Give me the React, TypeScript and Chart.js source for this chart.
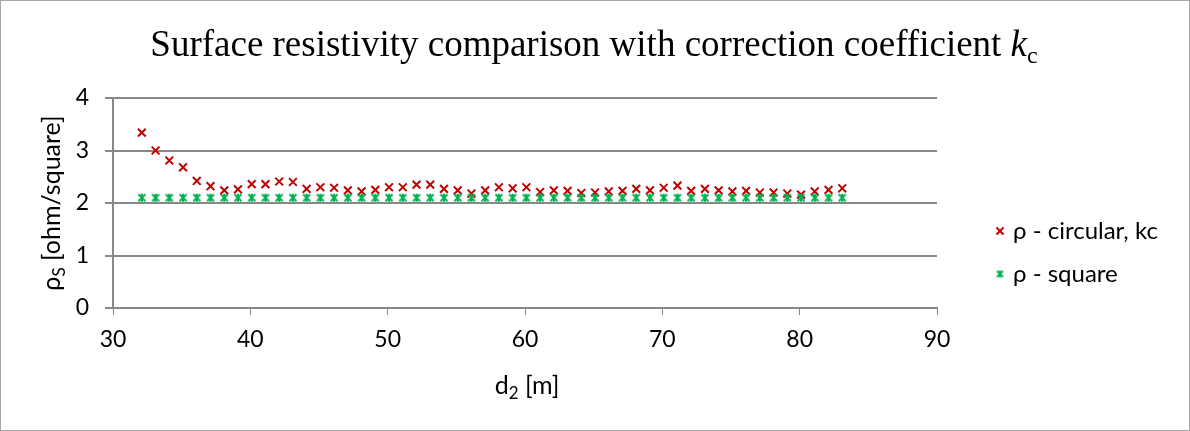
import React, { useEffect, useRef } from 'react';
import { Chart, registerables } from 'chart.js';
Chart.register(...registerables);

const d2 = [
  32.1, 33.1, 34.1, 35.1, 36.1, 37.1, 38.1, 39.1, 40.1, 41.1, 42.1, 43.1, 44.1,
  45.1, 46.1, 47.1, 48.1, 49.1, 50.1, 51.1, 52.1, 53.1, 54.1, 55.1, 56.1, 57.1,
  58.1, 59.1, 60.1, 61.1, 62.1, 63.1, 64.1, 65.1, 66.1, 67.1, 68.1, 69.1, 70.1,
  71.1, 72.1, 73.1, 74.1, 75.1, 76.1, 77.1, 78.1, 79.1, 80.1, 81.1, 82.1, 83.1,
];
const rhoCircular = [
  3.34, 3.0, 2.81, 2.68, 2.42, 2.32, 2.24, 2.26, 2.36, 2.36, 2.41, 2.4, 2.27,
  2.3, 2.29, 2.24, 2.22, 2.25, 2.3, 2.3, 2.35, 2.35, 2.27, 2.24, 2.18, 2.24,
  2.3, 2.28, 2.3, 2.21, 2.24, 2.23, 2.19, 2.2, 2.22, 2.23, 2.27, 2.24, 2.29,
  2.33, 2.23, 2.27, 2.24, 2.22, 2.23, 2.2, 2.2, 2.18, 2.16, 2.22, 2.25, 2.28,
];
const rhoSquare = [
  2.1, 2.1, 2.1, 2.1, 2.1, 2.1, 2.1, 2.1, 2.1, 2.1, 2.1, 2.1, 2.1,
  2.1, 2.1, 2.1, 2.1, 2.1, 2.1, 2.1, 2.1, 2.1, 2.1, 2.1, 2.1, 2.1,
  2.1, 2.1, 2.1, 2.1, 2.1, 2.1, 2.1, 2.1, 2.1, 2.1, 2.1, 2.1, 2.1,
  2.1, 2.1, 2.1, 2.1, 2.1, 2.1, 2.1, 2.1, 2.1, 2.1, 2.1, 2.1, 2.1,
];
const seriesNames = ['ρ - circular, kc', 'ρ - square'];
const xMin = 30, xMax = 90, xStep = 10;
const yMin = 0, yMax = 4, yStep = 1;

const RED = '#c00000';
const GREEN = '#00b050';
const GRID = '#888888';
const SANS = 'Lato, "Open Sans", sans-serif';
const SERIF = '"Liberation Serif", "Times New Roman", serif';

function makeStar(color: string, size: number) {
  const c = document.createElement('canvas');
  c.width = size;
  c.height = size;
  const g = c.getContext('2d')!;
  g.strokeStyle = color;
  g.lineWidth = 2;
  const a = 1.5, b = size - 1.5;
  g.beginPath();
  g.moveTo(a, a); g.lineTo(b, b);
  g.moveTo(b, a); g.lineTo(a, b);
  g.moveTo(size / 2, a - 0.5); g.lineTo(size / 2, b + 0.5);
  g.stroke();
  return c;
}

function drawCross(ctx: CanvasRenderingContext2D, x: number, y: number, r: number, color: string) {
  ctx.save();
  ctx.strokeStyle = color;
  ctx.lineWidth = 2;
  ctx.beginPath();
  ctx.moveTo(x - r, y - r); ctx.lineTo(x + r, y + r);
  ctx.moveTo(x + r, y - r); ctx.lineTo(x - r, y + r);
  ctx.stroke();
  ctx.restore();
}

const decor = {
  id: 'decor',
  afterDraw(chart: any) {
    const ctx: CanvasRenderingContext2D = chart.ctx;
    ctx.save();
    // outer border
    ctx.strokeStyle = '#a6a6a6';
    ctx.lineWidth = 1;
    ctx.strokeRect(0.5, 0.5, chart.width - 1, chart.height - 1);

    // title
    ctx.fillStyle = '#000';
    ctx.textBaseline = 'alphabetic';
    ctx.textAlign = 'left';
    const mainFont = `37px ${SERIF}`;
    const kFont = `italic 37px ${SERIF}`;
    const subFont = `24px ${SERIF}`;
    const t1 = 'Surface resistivity comparison with correction coefficient ';
    ctx.font = mainFont; const w1 = ctx.measureText(t1).width;
    ctx.font = kFont; const w2 = ctx.measureText('k').width;
    ctx.font = subFont; const w3 = ctx.measureText('c').width;
    const total = w1 + w2 + w3;
    let tx = 594 - total / 2;
    const ty = 56;
    ctx.font = mainFont; ctx.fillText(t1, tx, ty); tx += w1;
    ctx.font = kFont; ctx.fillText('k', tx, ty); tx += w2;
    ctx.font = subFont; ctx.fillText('c', tx, ty + 7);

    const fAx = `25px ${SANS}`;
    const fSub = `17px ${SANS}`;

    // y axis title (rotated)
    ctx.save();
    ctx.translate(52, 203);
    ctx.rotate(-Math.PI / 2);
    ctx.textBaseline = 'alphabetic';
    const ya = 'ρ', yb = 'S', yc = ' [ohm/square]';
    ctx.font = fAx; const ywa = ctx.measureText(ya).width; const ywc = ctx.measureText(yc).width;
    ctx.font = fSub; const ywb = ctx.measureText(yb).width;
    let yx = -(ywa + ywb + ywc) / 2;
    const base = 8;
    ctx.font = fAx; ctx.fillText(ya, yx, base); yx += ywa;
    ctx.font = fSub; ctx.fillText(yb, yx, base + 5); yx += ywb;
    ctx.font = fAx; ctx.fillText(yc, yx, base);
    ctx.restore();

    // x axis title
    ctx.textBaseline = 'alphabetic';
    const xa = 'd', xb = '2', xc = ' [m]';
    ctx.font = fAx; const xwa = ctx.measureText(xa).width; const xwc = ctx.measureText(xc).width;
    ctx.font = fSub; const xwb = ctx.measureText(xb).width;
    let xx = 527 - (xwa + xwb + xwc) / 2;
    const xy = 394;
    ctx.font = fAx; ctx.fillText(xa, xx, xy); xx += xwa;
    ctx.font = fSub; ctx.fillText(xb, xx, xy + 5); xx += xwb;
    ctx.font = fAx; ctx.fillText(xc, xx, xy);

    // legend
    ctx.font = `24px ${SANS}`;
    ctx.textBaseline = 'middle';
    drawCross(ctx, 1000, 231, 3.5, RED);
    ctx.fillStyle = '#000';
    ctx.fillText(seriesNames[0], 1013, 231);
    const star = makeStar(GREEN, 9);
    ctx.drawImage(star, 1000 - 4.5, 274 - 4.5);
    ctx.fillText(seriesNames[1], 1013, 274);
    ctx.restore();
  },
};

export default function App() {
  const ref = useRef<HTMLCanvasElement>(null);
  useEffect(() => {
    const star = makeStar(GREEN, 10);
    const chart = new Chart(ref.current!, {
      type: 'scatter',
      data: {
        datasets: [
          {
            label: seriesNames[1],
            data: d2.map((x, i) => ({ x, y: rhoSquare[i] })),
            pointStyle: star as any,
            borderColor: GREEN,
            backgroundColor: GREEN,
            pointRadius: 5,
          },
          {
            label: seriesNames[0],
            data: d2.map((x, i) => ({ x, y: rhoCircular[i] })),
            pointStyle: 'crossRot',
            borderColor: RED,
            backgroundColor: RED,
            borderWidth: 2,
            pointRadius: 5.5,
          },
        ],
      },
      options: {
        responsive: false,
        animation: false,
        layout: { padding: { top: 98, right: 253, bottom: 0, left: 0 } },
        plugins: { legend: { display: false }, title: { display: false }, tooltip: { enabled: false } },
        scales: {
          x: {
            type: 'linear',
            min: xMin,
            max: xMax,
            afterFit: (s: any) => { s.height = 431 - 308; },
            ticks: { stepSize: xStep, color: '#000', font: { family: SANS, size: 23 }, padding: 11, maxRotation: 0 },
            grid: { display: true, drawOnChartArea: false, drawTicks: true, tickLength: 7, color: GRID, lineWidth: 1 },
            border: { display: true, color: GRID, width: 2 },
          },
          y: {
            type: 'linear',
            min: yMin,
            max: yMax,
            afterFit: (s: any) => { s.width = 113; },
            ticks: { stepSize: yStep, color: '#000', font: { family: SANS, size: 23 }, padding: 16 },
            grid: { color: GRID, lineWidth: 2, tickLength: 8 },
            border: { display: true, color: GRID, width: 2 },
          },
        },
      },
      plugins: [decor],
    });
    return () => chart.destroy();
  }, []);
  return (
    <div style={{ position: 'absolute', left: 0, top: 0, width: 1190, height: 431, background: '#fff' }}>
      <canvas ref={ref} width={1190} height={431} style={{ display: 'block', width: 1190, height: 431 }} />
    </div>
  );
}
